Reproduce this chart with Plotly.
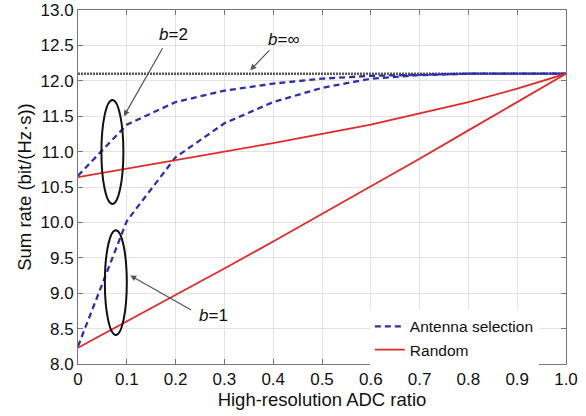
import plotly.graph_objects as go

ratio = [0, 0.1, 0.2, 0.3, 0.4, 0.5, 0.6, 0.7, 0.8, 0.9, 1.0]
as_b2 = [10.66, 11.38, 11.70, 11.86, 11.96, 12.03, 12.07, 12.09, 12.10, 12.10, 12.10]
as_b1 = [8.25, 10.02, 10.92, 11.40, 11.70, 11.90, 12.03, 12.08, 12.10, 12.10, 12.10]
rand_b2 = [10.64, 10.76, 10.88, 10.99, 11.12, 11.25, 11.38, 11.54, 11.70, 11.89, 12.10]
rand_b1 = [8.23, 8.60, 8.97, 9.35, 9.73, 10.12, 10.50, 10.90, 11.30, 11.70, 12.10]
inf_rate = [12.1] * len(ratio)

xticks = [0, 0.1, 0.2, 0.3, 0.4, 0.5, 0.6, 0.7, 0.8, 0.9, 1.0]
xticklabels = ["0", "0.1", "0.2", "0.3", "0.4", "0.5", "0.6", "0.7", "0.8", "0.9", "1.0"]
yticks = [8.0, 8.5, 9.0, 9.5, 10.0, 10.5, 11.0, 11.5, 12.0, 12.5, 13.0]

BLUE = "#2f2fae"
RED = "#e02a2a"
FONT = "Liberation Sans, Arial, sans-serif"

fig = go.Figure()
fig.add_trace(go.Scatter(x=ratio, y=inf_rate, mode="lines",
                         line=dict(color="#5a5a5a", width=2.6, dash="2px,1px"),
                         showlegend=False))
fig.add_trace(go.Scatter(x=ratio, y=as_b2, mode="lines", name="Antenna selection",
                         line=dict(color=BLUE, width=2.3, dash="6px,4px")))
fig.add_trace(go.Scatter(x=ratio, y=as_b1, mode="lines", showlegend=False,
                         line=dict(color=BLUE, width=2.3, dash="6px,4px")))
fig.add_trace(go.Scatter(x=ratio, y=rand_b2, mode="lines", name="Random",
                         line=dict(color=RED, width=1.8)))
fig.add_trace(go.Scatter(x=ratio, y=rand_b1, mode="lines", showlegend=False,
                         line=dict(color=RED, width=1.8)))

# ellipses
fig.add_shape(type="circle", xref="x", yref="y", x0=0.048, x1=0.093, y0=10.26, y1=11.73,
              line=dict(color="#111111", width=2))
fig.add_shape(type="circle", xref="x", yref="y", x0=0.055, x1=0.100, y0=8.41, y1=9.89,
              line=dict(color="#111111", width=2))

# arrows
def arrow(x, y, ax, ay):
    fig.add_annotation(x=x, y=y, ax=ax, ay=ay, xref="x", yref="y", axref="x", ayref="y",
                       text="", showarrow=True, arrowhead=2, arrowsize=1, arrowwidth=1.2,
                       arrowcolor="#555555")

arrow(0.094, 11.50, 0.175, 12.48)
arrow(0.353, 12.15, 0.395, 12.45)
arrow(0.107, 9.25, 0.235, 8.75)

for txt, x, y in [("<i>b</i>=2", 0.195, 12.66), ("<i>b</i>=∞", 0.423, 12.58), ("<i>b</i>=1", 0.278, 8.69)]:
    fig.add_annotation(x=x, y=y, xref="x", yref="y", text=txt, showarrow=False,
                       font=dict(size=17, color="#111111", family=FONT))

fig.update_layout(
    width=586, height=416,
    margin=dict(l=78, r=20, t=10, b=52, autoexpand=False),
    paper_bgcolor="white", plot_bgcolor="white",
    font=dict(family=FONT, size=17, color="#111111"),
    legend=dict(x=0.598, y=-0.008, xanchor="left", yanchor="bottom",
                bgcolor="rgba(255,255,255,1)", borderwidth=0,
                font=dict(size=15.5, family=FONT), tracegroupgap=0,
                itemwidth=30),
    xaxis=dict(range=[0, 1.0], tickvals=xticks, ticktext=xticklabels,
               showgrid=True, gridcolor="#e3e3e3", gridwidth=1,
               showline=True, linecolor="#777777", linewidth=1, mirror="ticks",
               ticks="inside", ticklen=5, tickcolor="#777777", zeroline=False,
               automargin=False,
               title=dict(text="High-resolution ADC ratio", font=dict(size=18.5), standoff=3),
               tickfont=dict(size=17)),
    yaxis=dict(range=[8.0, 13.0], tickvals=yticks, tickformat=".1f",
               showgrid=True, gridcolor="#e3e3e3", gridwidth=1,
               showline=True, linecolor="#777777", linewidth=1, mirror="ticks",
               ticks="inside", ticklen=5, tickcolor="#777777", zeroline=False,
               automargin=False,
               title=dict(text="Sum rate (bit/(Hz·s))", font=dict(size=18.5), standoff=4),
               tickfont=dict(size=17)),
)

fig.write_html("out.html", config={"displayModeBar": False},
               post_script="document.body.style.margin='0';")
